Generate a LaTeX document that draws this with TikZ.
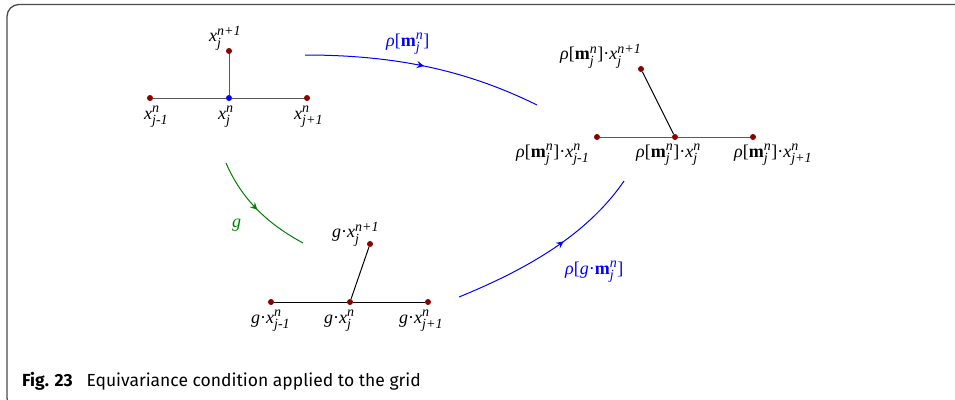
\documentclass[tikz,border=0pt]{standalone}
\usepackage{amsmath}
\usepackage{fontspec}
\setmainfont{Liberation Serif}
\newfontfamily\capfont{Fira Sans}
\usetikzlibrary{decorations.markings}
\DeclareMathSizes{18}{18}{14}{11}

\newcommand{\xv}[2]{\text{\itshape x}_{\text{\itshape #1}}^{\text{\itshape #2}}}
\newcommand{\mrho}{\text{\itshape ρ}}
\newcommand{\mjn}{\text{\bfseries m}_{\text{\itshape j}}^{\text{\itshape n}}}
\newcommand{\mdot}{\text{·}}

\tikzset{
  dot/.style={circle,fill=red!55!black,inner sep=0pt,minimum size=6pt},
  cdot/.style={dot,fill=blue},
  lbl/.style={inner sep=0pt,anchor=west,font=\fontsize{18}{20}\selectfont},
  link/.style={line width=1pt},
  mid arrow/.style={postaction={decorate},decoration={markings,
      mark=at position #1 with {\arrow[scale=1.6]{stealth}}}}
}

\begin{document}
\begin{tikzpicture}[x=1pt,y=-1pt]
  \useasboundingbox (0,0) rectangle (955,399);
  % frame
  \begin{scope}
    \clip (0,0) rectangle (955,399);
    \draw[gray!60!black,line width=1.3pt,rounded corners=12pt] (960,4.5) -- (7,4.5) -- (7,410) -- (960,410);
  \end{scope}

  % grid at step n
  \node[dot] (a1) at (150,98) {};
  \node[cdot] (a2) at (229,98) {};
  \node[dot] (a3) at (307,98) {};
  \node[dot] (a4) at (229,51) {};
  \draw[link,gray!70!black] (a1) -- (a2) -- (a3);
  \draw[link,gray!70!black] (a2) -- (a4);
  \node[lbl] (la1) at (144,117) {$\xv{j-1}{n}$};
  \node[lbl] (la2) at (218,117) {$\xv{j}{n}$};
  \node[lbl] (la3) at (294,117) {$\xv{j+1}{n}$};
  \node[lbl] (la4) at (209,38) {$\xv{j}{n+1}$};

  % transformed by the moving frame
  \node[dot] (b1) at (597,137) {};
  \node[dot] (b2) at (675,137) {};
  \node[dot] (b3) at (753,137) {};
  \node[dot] (b4) at (641,69) {};
  \draw[link,gray!70!black] (b1) -- (b2) -- (b3);
  \draw[link,black] (b2) -- (b4);
  \node[lbl] (lb1) at (516,155) {$\mrho\text{[}\mjn\text{]}\mdot\xv{j-1}{n}$};
  \node[lbl] (lb2) at (636,155) {$\mrho\text{[}\mjn\text{]}\mdot\xv{j}{n}$};
  \node[lbl] (lb3) at (734,155) {$\mrho\text{[}\mjn\text{]}\mdot\xv{j+1}{n}$};
  \node[lbl] (lb4) at (560,56) {$\mrho\text{[}\mjn\text{]}\mdot\xv{j}{n+1}$};

  % transformed by g
  \node[dot] (c1) at (271,302) {};
  \node[dot] (c2) at (350,302) {};
  \node[dot] (c3) at (428,302) {};
  \node[dot] (c4) at (370,244) {};
  \draw[link,black] (c1) -- (c2) -- (c3);
  \draw[link,black] (c2) -- (c4);
  \node[lbl] (lc1) at (251,321) {$\text{\itshape g}\mdot\xv{j-1}{n}$};
  \node[lbl] (lc2) at (324,321) {$\text{\itshape g}\mdot\xv{j}{n}$};
  \node[lbl] (lc3) at (399,321) {$\text{\itshape g}\mdot\xv{j+1}{n}$};
  \node[lbl] (lc4) at (332,234) {$\text{\itshape g}\mdot\xv{j}{n+1}$};

  % maps
  \coordinate (p1) at (305,55);
  \coordinate (p2) at (537,105);
  \draw[blue,line width=1pt,mid arrow=0.5] (p1) .. controls (400,55) and (470,72) .. (p2);
  \node[lbl,blue] (lp) at (386,44) {$\mrho\text{[}\mjn\text{]}$};

  \coordinate (q1) at (226,163);
  \coordinate (q2) at (303,243);
  \draw[green!50!black,line width=1pt,mid arrow=0.5] (q1) .. controls (242,200) and (268,224) .. (q2);
  \node[lbl,green!50!black] (lq) at (232,225) {$\text{\itshape g}$};

  \coordinate (r1) at (459,297);
  \coordinate (r2) at (624,181);
  \draw[blue,line width=1pt,mid arrow=0.58] (r1) .. controls (520,272) and (585,238) .. (r2);
  \node[lbl,blue] (lr) at (565,272) {$\mrho\text{[}\text{\itshape g}\mdot\mjn\text{]}$};

  % caption
  \node[anchor=base west,inner sep=0pt,font=\capfont\fontsize{17.5}{20}\selectfont] (cap) at (22,386)
    {\textbf{Fig. 23}\hspace{14pt}Equivariance condition applied to the grid};
\end{tikzpicture}
\end{document}
